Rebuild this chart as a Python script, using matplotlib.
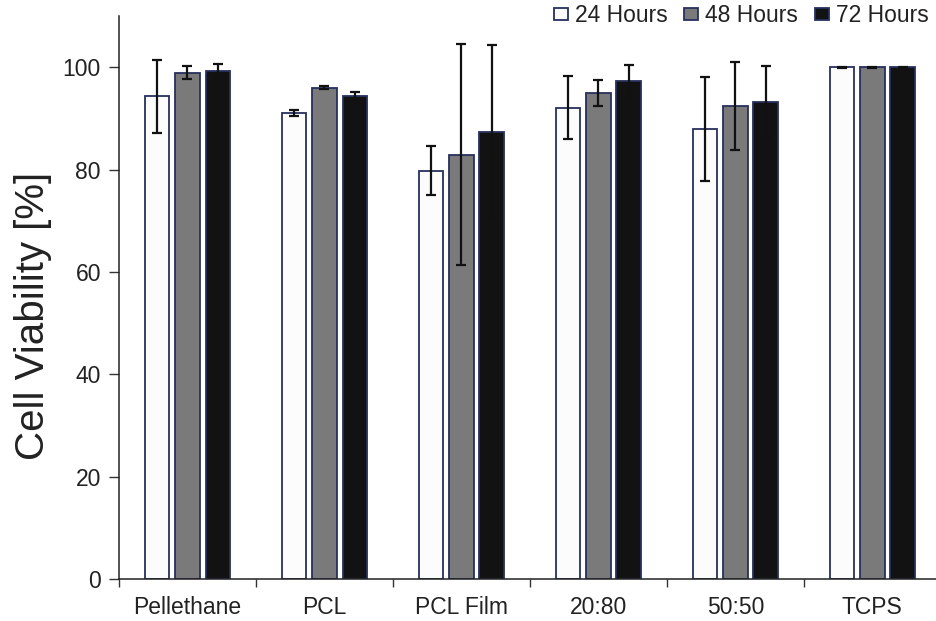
import numpy as np
import matplotlib
matplotlib.use("Agg")
import matplotlib.pyplot as plt
from matplotlib.patches import Patch

plt.rcParams["font.family"] = ["Liberation Sans", "DejaVu Sans"]

# viabilidade celular por material e tempo
grupos = ["Pellethane", "PCL", "PCL Film", "20:80", "50:50", "TCPS"]
series = ["24 Hours", "48 Hours", "72 Hours"]
v24 = [94.3, 91.0, 79.8, 92.1, 87.9, 100.0]
v48 = [98.9, 96.0, 82.9, 95.0, 92.5, 100.0]
v72 = [99.3, 94.3, 87.4, 97.3, 93.2, 100.0]
e24 = [7.1, 0.6, 4.8, 6.2, 10.1, 0.1]
e48 = [1.3, 0.3, 21.6, 2.5, 8.6, 0.1]
e72 = [1.4, 0.9, 16.9, 3.1, 7.1, 0.1]

cores = ["#fcfcfc", "#7a7a7a", "#121212"]
borda = "#27305e"

fig = plt.figure(figsize=(9.37, 6.21), dpi=100)
ax = fig.add_axes([0.127, 0.0676, 0.877, 0.9066])

x = np.arange(len(grupos))
largura = 0.18
passo = 0.222
for i, (vals, errs) in enumerate(zip([v24, v48, v72], [e24, e48, e72])):
    ax.bar(x + (i - 1) * passo, vals, largura, color=cores[i],
           edgecolor=borda, linewidth=1.3, zorder=2)
    ax.errorbar(x + (i - 1) * passo, vals, yerr=errs, fmt="none",
                ecolor="#111111", elinewidth=1.6, capsize=3.5,
                capthick=1.6, zorder=3)

ax.set_xlim(-0.5, 5.5)
ax.set_ylim(0, 110)
ax.set_yticks([0, 20, 40, 60, 80, 100])
ax.set_xticks(x)
ax.set_xticklabels(grupos)
ax.set_xticks(np.arange(-0.5, 5.6, 1), minor=True)
ax.tick_params(axis="x", which="major", length=0, pad=12,
               labelsize=16.5, labelcolor="#222222")
ax.tick_params(axis="x", which="minor", length=6, width=1.0,
               direction="out", color="#333333")
ax.tick_params(axis="y", length=7, width=1.0, direction="out",
               labelsize=16.5, labelcolor="#222222", pad=6, color="#333333")

for lado in ["top", "right"]:
    ax.spines[lado].set_visible(False)
for lado in ["left", "bottom"]:
    ax.spines[lado].set_color("#222222")
    ax.spines[lado].set_linewidth(1.1)

ax.set_ylabel("Cell Viability [%]", fontsize=29, color="#222222")
ax.yaxis.set_label_coords(-0.082, 0.468)

# legenda no topo
handles = [Patch(facecolor=cores[i], edgecolor=borda, linewidth=1.3)
           for i in range(3)]
fig.legend(handles, series, loc="upper right", bbox_to_anchor=(1.013, 1.026),
           ncol=3, frameon=False, fontsize=16.5, handlelength=0.6,
           handleheight=0.4, handletextpad=0.3, columnspacing=0.75,
           labelcolor="#222222")

fig.savefig("out.png", dpi=100)
